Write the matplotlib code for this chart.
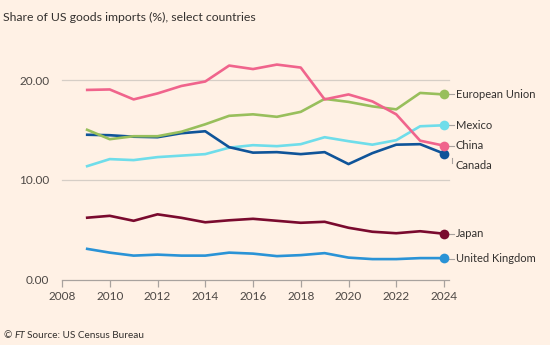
import matplotlib
matplotlib.use("Agg")
import matplotlib.pyplot as plt
from matplotlib.patches import Rectangle

years = list(range(2009, 2025))
china = [19.05, 19.1, 18.1, 18.7, 19.45, 19.9, 21.5, 21.15, 21.6, 21.3, 18.1, 18.6, 17.9, 16.6, 13.95, 13.45]
eu = [15.1, 14.1, 14.4, 14.4, 14.85, 15.6, 16.45, 16.6, 16.35, 16.85, 18.15, 17.85, 17.4, 17.1, 18.75, 18.6]
canada = [14.55, 14.5, 14.35, 14.3, 14.7, 14.9, 13.3, 12.75, 12.8, 12.6, 12.8, 11.6, 12.7, 13.55, 13.6, 12.65]
mexico = [11.35, 12.1, 12.0, 12.3, 12.45, 12.6, 13.25, 13.5, 13.4, 13.6, 14.3, 13.9, 13.55, 14.0, 15.4, 15.5]
japan = [6.2, 6.4, 5.9, 6.55, 6.2, 5.75, 5.95, 6.1, 5.9, 5.7, 5.8, 5.2, 4.8, 4.65, 4.85, 4.6]
uk = [3.1, 2.7, 2.4, 2.5, 2.4, 2.4, 2.7, 2.6, 2.35, 2.45, 2.65, 2.2, 2.05, 2.05, 2.15, 2.15]

series_names = ["European Union", "Mexico", "China", "Canada", "Japan", "United Kingdom"]
series_values = [eu, mexico, china, canada, japan, uk]
colors = ["#98BF5C", "#6FDDEA", "#F0648C", "#0F5499", "#7A0A2E", "#2A93D6"]
draw_order = [4, 5, 1, 3, 0, 2]  # z-ordering

x_ticks = [2008, 2010, 2012, 2014, 2016, 2018, 2020, 2022, 2024]
y_ticks = [0, 10, 20]
title = "Share of US goods imports (%), select countries"
source = "Source: US Census Bureau"

plt.rcParams['font.family'] = ['Lato', 'DejaVu Sans']

W, H = 556, 351
fig = plt.figure(figsize=(W / 100, H / 100), dpi=100)
fig.patch.set_facecolor("white")
fig.add_artist(Rectangle((0, 1 - 345 / H), 550 / W, 345 / H, transform=fig.transFigure,
                         facecolor="#FFF1E5", edgecolor="none", zorder=-10))

x0px, x1px = 62, 444
ax_left = x0px / W
ax_w = (x1px - x0px) / W
ypx0, ypx_top = 279.5, 279.5 - 25 * 9.95
ax = fig.add_axes([ax_left, 1 - ypx0 / H, ax_w, (ypx0 - ypx_top) / H])
ax.set_facecolor("none")
ax.set_xlim(2008, 2024)
ax.set_ylim(0, 25)

for s in ["top", "right", "left"]:
    ax.spines[s].set_visible(False)
ax.spines["bottom"].set_color("#A8A29E")
ax.spines["bottom"].set_linewidth(0.9)
ax.spines["bottom"].set_bounds(2008, 2024.2)
ax.set_xticks(x_ticks)
ax.set_xticklabels([str(t) for t in x_ticks])
ax.set_yticks(y_ticks)
ax.set_yticklabels([f"{t:.2f}" for t in y_ticks])
ax.tick_params(axis="x", length=5, width=0.9, color="#A8A29E", labelcolor="#4D4845",
               labelsize=8.5, pad=3)
ax.tick_params(axis="y", length=0, labelcolor="#4D4845", labelsize=8.5, pad=9)
for t in y_ticks[1:]:
    ax.plot([2008, 2024.2], [t, t], color="#D6CEC6", lw=0.9, zorder=0, clip_on=False)

for i in draw_order:
    ax.plot(years, series_values[i], color=colors[i], lw=1.9, zorder=2 + draw_order.index(i),
            solid_capstyle="butt", solid_joinstyle="round")
    ax.plot(years[-1], series_values[i][-1], "o", color=colors[i], ms=7, mew=0,
            zorder=10 + draw_order.index(i), clip_on=False)

label_y = {"European Union": 18.6, "Mexico": 15.5, "China": 13.45, "Canada": 11.45,
           "Japan": 4.6, "United Kingdom": 2.1}
for name, vals in zip(series_names, series_values):
    ly = label_y[name]
    if name == "Canada":
        ax.plot([2024.35, 2024.35], [vals[-1] - 0.45, ly + 0.3], color="#A8A29E", lw=0.8,
                clip_on=False)
    else:
        ax.plot([2024.2, 2024.42], [ly, ly], color="#A8A29E", lw=0.8, clip_on=False)
    ax.text(2024.5, ly, name, fontsize=8.0, color="#33302E", va="center", ha="left",
            clip_on=False)

fig.text(3 / W, 1 - 17 / H, title, fontsize=8.8, color="#33302E", va="center", ha="left")
fig.text(3 / W, 1 - 336 / H, "©", fontsize=7.2, color="#33302E", va="center", ha="left")
fig.text(15 / W, 1 - 336 / H, "FT", fontsize=7.2, color="#33302E", va="center", ha="left",
         style="italic")
fig.text(27 / W, 1 - 336 / H, source, fontsize=7.2, color="#33302E", va="center", ha="left")

fig.savefig("out.png", dpi=100, facecolor=fig.get_facecolor())
